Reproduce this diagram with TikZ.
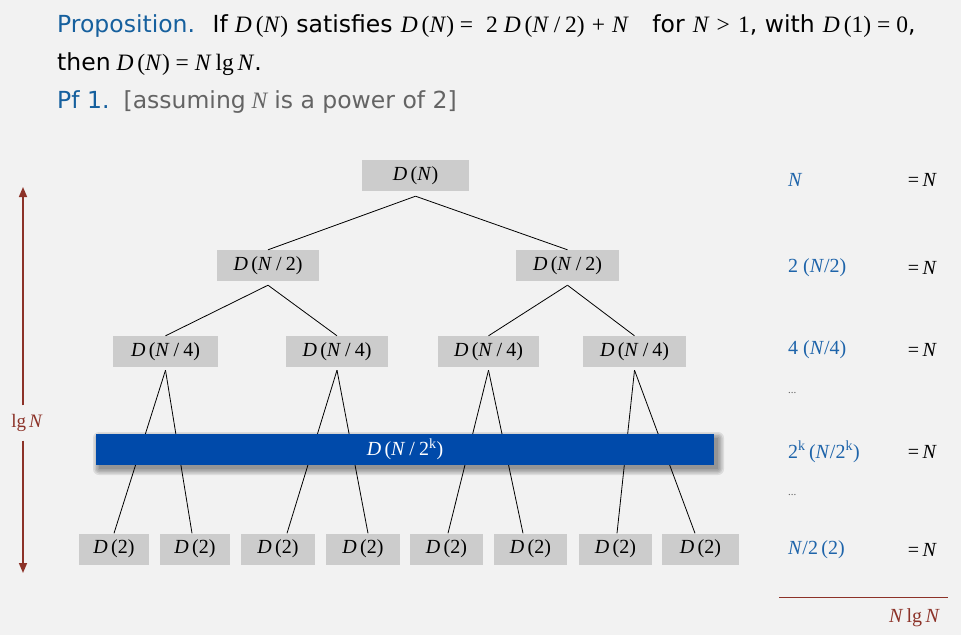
\documentclass[tikz,border=0pt]{standalone}
\usepackage{fontspec}
\setmainfont{Liberation Serif}
\newfontfamily\hdr{DejaVu Sans}
\usetikzlibrary{calc,arrows.meta}
\definecolor{bg}{RGB}{242,242,242}
\definecolor{boxgray}{RGB}{204,204,204}
\definecolor{barblue}{RGB}{0,74,170}
\definecolor{txtblue}{RGB}{22,96,158}
\definecolor{colblue}{RGB}{30,100,170}
\definecolor{brn}{RGB}{140,50,40}
\definecolor{gtext}{RGB}{100,100,100}
\newcommand{\iD}{\textit{D}}
\newcommand{\iN}{\textit{N}}
\newcommand{\myslash}{\hspace{0.2em}/\hspace{0.2em}}
\begin{document}
\begin{tikzpicture}[x=1pt,y=-1pt,
  tbox/.style={fill=boxgray, minimum height=31pt, inner sep=0pt, font=\fontsize{20}{22}\selectfont},
  edge/.style={draw=black, line width=0.8pt},
  coltxt/.style={anchor=west, text=colblue, inner sep=0pt, font=\fontsize{20}{22}\selectfont},
  eqtxt/.style={anchor=east, inner sep=0pt, font=\fontsize{20}{22}\selectfont},
  hdrline/.style={anchor=base west, inner sep=0pt, font=\fontsize{23.5}{26}\selectfont},
  arr/.style={draw=brn, line width=1.6pt, -{Triangle[length=10pt,width=8pt]}}
]
\useasboundingbox[fill=bg] (0,0) rectangle (961,635);

% header
\node[hdrline] (h1) at (57,32) {{\hdr\color{txtblue}Proposition.}\hspace{0.75em}{\hdr If}\hspace{0.3em}\iD\,(\iN)\hspace{0.35em}{\hdr satisfies}\hspace{0.35em}\iD\,(\iN)\hspace{0.25em}=\hspace{0.55em}2\hspace{0.25em}\iD\,(\iN\myslash 2)\hspace{0.3em}+\hspace{0.3em}\iN\hspace{1em}{\hdr for}\hspace{0.35em}\iN\hspace{0.3em}>\hspace{0.35em}1{\hdr , with}\hspace{0.35em}\iD\,(1)\hspace{0.25em}=\hspace{0.25em}0{\hdr ,}};
\node[hdrline] (h2) at (57,70) {{\hdr then} \iD\,(\iN)\ =\ \iN\,lg\,\iN{\hdr .}};
\node[hdrline] (h3) at (57,108) {{\hdr\color{txtblue}Pf 1.}\hspace{0.6em}{\color{gtext}{\hdr [assuming} \iN\ {\hdr is a power of 2]}}};

% tree nodes
\node[tbox, minimum width=107pt] (root) at (415.5,175.5) {\iD\,(\iN)};
\node[tbox, minimum width=102pt] (l1a) at (268,265.5) {\iD\,(\iN\myslash 2)};
\node[tbox, minimum width=103pt] (l1b) at (567.5,265.5) {\iD\,(\iN\myslash 2)};
\node[tbox, minimum width=105pt] (l2a) at (165.5,351.5) {\iD\,(\iN\myslash 4)};
\node[tbox, minimum width=102pt] (l2b) at (337,351.5) {\iD\,(\iN\myslash 4)};
\node[tbox, minimum width=101pt] (l2c) at (488.5,351.5) {\iD\,(\iN\myslash 4)};
\node[tbox, minimum width=103pt] (l2d) at (634.5,351.5) {\iD\,(\iN\myslash 4)};
\node[tbox, minimum width=70pt] (da) at (114,549) {\iD\,(2)};
\node[tbox, minimum width=70pt] (db) at (195,549) {\iD\,(2)};
\node[tbox, minimum width=74pt] (dc) at (278,549) {\iD\,(2)};
\node[tbox, minimum width=74pt] (dd) at (363,549) {\iD\,(2)};
\node[tbox, minimum width=73pt] (de) at (446.5,549) {\iD\,(2)};
\node[tbox, minimum width=73pt] (df) at (530.5,549) {\iD\,(2)};
\node[tbox, minimum width=73pt] (dg) at (615.5,549) {\iD\,(2)};
\node[tbox, minimum width=77pt] (dh) at (700.5,549) {\iD\,(2)};

% edges
\draw[edge] ($(root.south)+(0,5)$) -- (l1a.north);
\draw[edge] ($(root.south)+(0,5)$) -- (l1b.north);
\draw[edge] ($(l1a.south)+(0,4)$) -- (l2a.north);
\draw[edge] ($(l1a.south)+(0,4)$) -- (l2b.north);
\draw[edge] ($(l1b.south)+(0,4)$) -- (l2c.north);
\draw[edge] ($(l1b.south)+(0,4)$) -- (l2d.north);
\draw[edge] ($(l2a.south)+(0,3)$) -- (da.north);
\draw[edge] ($(l2a.south)+(0,3)$) -- ($(db.north)+(-3,0)$);
\draw[edge] ($(l2b.south)+(0,3)$) -- ($(dc.north)+(9,0)$);
\draw[edge] ($(l2b.south)+(0,3)$) -- ($(dd.north)+(5,0)$);
\draw[edge] ($(l2c.south)+(0,3)$) -- ($(de.north)+(1.5,0)$);
\draw[edge] ($(l2c.south)+(0,3)$) -- ($(df.north)+(-7.5,0)$);
\draw[edge] ($(l2d.south)+(0,3)$) -- ($(dg.north)+(1.5,0)$);
\draw[edge] ($(l2d.south)+(0,3)$) -- ($(dh.north)+(-5.5,0)$);

% blurred shadow of the bar
\foreach \e in {0,1.5,3,4.5,6}
  \fill[black, opacity=0.09, rounded corners=\e pt] (99-\e,438-\e) rectangle (718+\e,469+\e);
% blue bar
\node[fill=barblue, text=white, minimum width=618pt, minimum height=31pt, inner sep=0pt,
  font=\fontsize{20}{22}\selectfont]
  (bar) at (405,449.5) {\iD\,(\iN\myslash 2\textsuperscript{k})};

% left arrow
\node[text=brn, minimum height=35pt, inner sep=0pt, font=\fontsize{19}{20}\selectfont] (lg) at (27,423) {lg\,\iN};
\coordinate (atop) at (23,187);
\coordinate (abot) at (23,573);
\draw[arr] (lg.north -| atop) -- (atop);
\draw[arr] (lg.south -| abot) -- (abot);

% right column
\node[coltxt] (c1) at (788,180) {\iN};
\node[eqtxt] (e1) at (937,180) {=\,\iN};
\node[coltxt] (c2) at (788,268) {2 (\iN/2)};
\node[eqtxt] (e2) at (937,268) {=\,\iN};
\node[coltxt] (c3) at (788,350) {4 (\iN/4)};
\node[eqtxt] (e3) at (937,350) {=\,\iN};
\node[coltxt, text=gtext, font=\fontsize{11}{12}\selectfont] (dots1) at (788,393) {...};
\node[coltxt] (c4) at (788,452) {2\textsuperscript{k}\,(\iN/2\textsuperscript{k})};
\node[eqtxt] (e4) at (937,452) {=\,\iN};
\node[coltxt, text=gtext, font=\fontsize{11}{12}\selectfont] (dots2) at (788,495) {...};
\node[coltxt] (c5) at (788,550) {\iN/2\,(2)};
\node[eqtxt] (e5) at (937,550) {=\,\iN};
\coordinate (r1) at (779,597);
\coordinate (r2) at (948,597);
\draw[brn, line width=0.8pt] (r1) -- (r2);
\node[eqtxt, text=brn] (tot) at (940,618) {\iN\,lg\,\iN};
\end{tikzpicture}
\end{document}
